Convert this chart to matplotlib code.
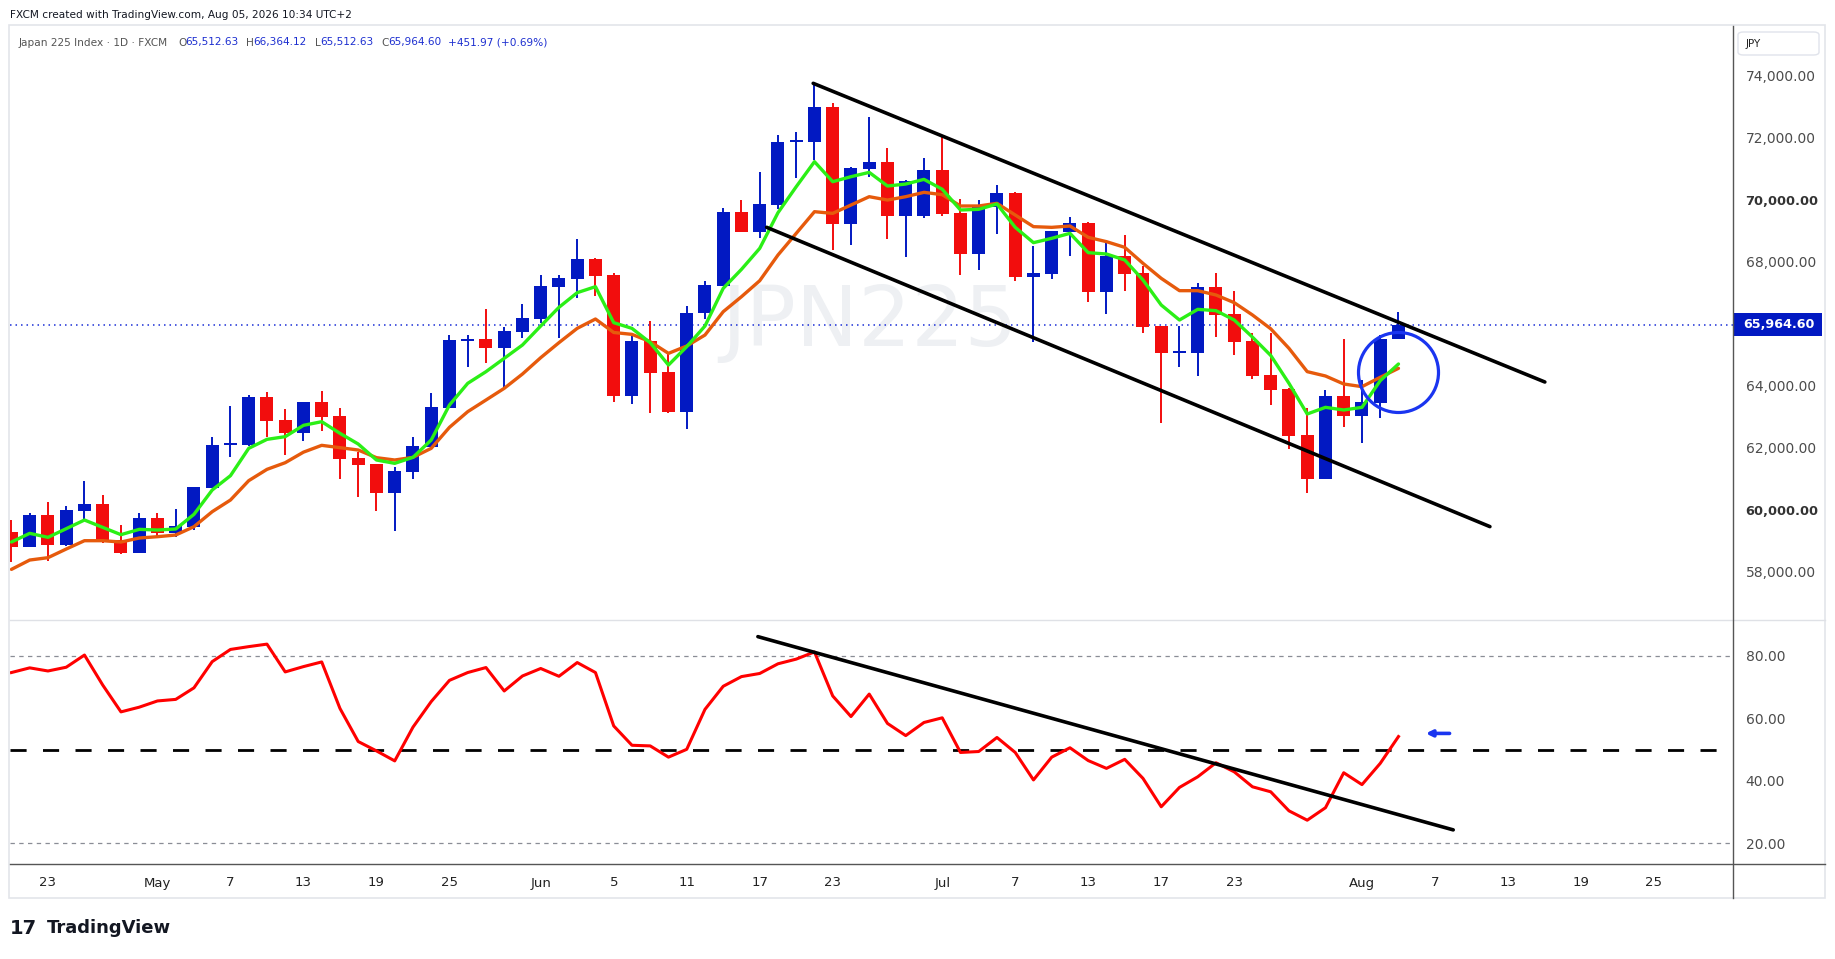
import matplotlib
matplotlib.use('Agg')
import matplotlib.pyplot as plt
import pandas as pd
from matplotlib.patches import Rectangle, FancyBboxPatch
from matplotlib.lines import Line2D

W, H, DPI = 1835, 959, 100

# ---------------- data ----------------
start_date = "2026-04-21"
end_date = "2026-08-05"

opens = [59274, 58801, 59822, 58854, 59951, 60177, 59016, 58607, 59725, 59252,
         59446, 60704, 62085, 62080, 63629, 62887, 62479, 63468, 63016, 61661,
         61468, 60543, 61220, 62027, 63285, 65436, 65500, 65221, 65726, 66156,
         67188, 67446, 68081, 67565, 63671, 65435, 64435, 63155, 66327, 67220,
         69596, 68962, 69833, 71850, 71854, 72983, 69220, 70994, 71209, 69478,
         69478, 70952, 69565, 68253, 69748, 70210, 67511, 67608, 68962, 69242,
         67016, 68178, 67629, 65919, 65060, 65059, 67178, 66307, 65436, 64339,
         63887, 62404, 60995, 63662, 63027, 63446, 65512.63]
highs = [59661, 59887, 60241, 60112, 60919, 60467, 59499, 59887, 59887, 60016,
         60740, 62349, 63338, 63693, 63790, 63242, 63468, 63823, 63274, 61866,
         61480, 61382, 62339, 63758, 65629, 65629, 66468, 65898, 66629, 67565,
         67565, 68726, 68100, 67640, 65600, 66080, 65005, 66564, 67370, 69725,
         69983, 70887, 72080, 72177, 73747, 73102, 71037, 72661, 71661, 70630,
         71338, 72060, 70016, 69984, 70468, 70253, 68500, 68984, 69436, 69260,
         68672, 68855, 67855, 65930, 65919, 67307, 67629, 67049, 65683, 65683,
         63909, 63264, 63855, 65500, 64178, 65629, 66364.12]
lows = [58317, 58780, 58349, 58830, 59661, 58908, 58564, 58590, 59123, 59123,
        59338, 60690, 61704, 62060, 62328, 61758, 62220, 62543, 60995, 60414,
        59962, 59317, 60995, 62000, 63270, 64608, 64737, 63876, 65543, 66006,
        65543, 66833, 66898, 63478, 63392, 63101, 63120, 62585, 66150, 67200,
        68940, 68768, 69682, 70704, 71274, 68370, 68543, 70736, 68725, 68155,
        69413, 69468, 67576, 67726, 68888, 67382, 65414, 67436, 68178, 66694,
        66307, 67049, 65705, 62801, 64608, 64318, 65565, 64984, 64210, 63371,
        61941, 60543, 60980, 62651, 62135, 62963, 65512.63]
closes = [58801, 59822, 58854, 59983, 60177, 59016, 58607, 59725, 59252, 59467,
          60725, 62080, 62110, 63629, 62865, 62478, 63468, 62995, 61640, 61446,
          60543, 61242, 62048, 63307, 65468, 65480, 65221, 65758, 66178, 67210,
          67468, 68081, 67543, 63672, 65435, 64413, 63155, 66327, 67241, 69596,
          68962, 69854, 71854, 71875, 72983, 69220, 71016, 71209, 69478, 70596,
          70951, 69533, 68253, 69748, 70210, 67511, 67629, 68984, 69242, 67016,
          68178, 67608, 65898, 65059, 65080, 67178, 66285, 65414, 64318, 63866,
          62382, 60995, 63662, 63027, 63457, 65512.63, 65964.60]
ma_fast = [58951, 59231, 59102, 59381, 59661, 59424, 59188, 59360, 59338, 59371,
           59844, 60629, 61091, 61973, 62263, 62350, 62715, 62833, 62457, 62113,
           61597, 61489, 61683, 62242, 63371, 64070, 64446, 64876, 65307, 65920,
           66522, 66995, 67188, 66027, 65843, 65381, 64660, 65252, 65919, 67134,
           67747, 68424, 69573, 70413, 71220, 70575, 70736, 70876, 70435, 70499,
           70650, 70330, 69662, 69683, 69855, 69103, 68608, 68748, 68909, 68285,
           68242, 68049, 67404, 66597, 66113, 66457, 66414, 66113, 65560, 64970,
           64070, 63081, 63296, 63210, 63296, 64156, 64694]
ma_slow = [58069, 58370, 58446, 58725, 58994, 58994, 58951, 59080, 59123, 59177,
           59446, 59930, 60306, 60930, 61295, 61510, 61850, 62070, 61995, 61919,
           61672, 61597, 61683, 61973, 62651, 63156, 63532, 63909, 64371, 64898,
           65382, 65844, 66145, 65710, 65650, 65413, 65037, 65274, 65628, 66381,
           66865, 67381, 68209, 68908, 69607, 69553, 69822, 70091, 69983, 70091,
           70231, 70156, 69791, 69791, 69877, 69500, 69124, 69102, 69145, 68780,
           68640, 68457, 67941, 67457, 67059, 67059, 66920, 66672, 66275, 65830,
           65199, 64447, 64307, 64049, 63963, 64264, 64554]
rsi = [74.7, 76.2, 75.2, 76.4, 80.3, 70.7, 62.1, 63.6, 65.6, 66.1,
       69.8, 78.2, 82.1, 83.0, 83.8, 74.9, 76.6, 78.1, 63.2, 52.6,
       49.6, 46.4, 57.2, 65.4, 72.2, 74.7, 76.3, 68.8, 73.6, 76.0,
       73.5, 77.9, 74.7, 57.6, 51.4, 51.2, 47.6, 50.1, 62.9, 70.3,
       73.4, 74.4, 77.5, 79.0, 81.3, 67.2, 60.6, 67.8, 58.4, 54.5,
       58.7, 60.2, 49.1, 49.4, 53.9, 49.1, 40.3, 47.6, 50.6, 46.5,
       44.0, 46.9, 40.8, 31.7, 37.9, 41.3, 45.8, 42.9, 38.1, 36.5,
       30.4, 27.4, 31.4, 42.6, 38.8, 45.6, 54.2]

tick_dates = ["2026-04-23", "2026-05-01", "2026-05-07", "2026-05-13", "2026-05-19",
              "2026-05-25", "2026-06-01", "2026-06-05", "2026-06-11", "2026-06-17",
              "2026-06-23", "2026-07-01", "2026-07-07", "2026-07-13", "2026-07-17",
              "2026-07-23", "2026-08-03", "2026-08-07", "2026-08-13", "2026-08-19",
              "2026-08-25"]
tick_texts = ["23", "May", "7", "13", "19", "25", "Jun", "5", "11", "17", "23",
              "Jul", "7", "13", "17", "23", "Aug", "7", "13", "19", "25"]

price_tick_show = [58000, 60000, 62000, 64000, 68000, 70000, 72000, 74000]
rsi_ticks = [20, 40, 60, 80]
last_price = 65964.60

# channel / trend lines (bar-index, value)
upper_channel = ([43.93, 84.02], [73748, 64113])
lower_channel = ([41.38, 81.01], [69103, 59448])
rsi_trend = ([40.9, 79.0], [86.2, 24.3])
circle_center = (76.0, 64426)
arrow_pos = (77.5, 78.8, 55.2)

# ---------------- positions ----------------
all_days = pd.bdate_range(start_date, "2026-08-31")
bars = pd.bdate_range(start_date, end_date)
idx = list(range(len(bars)))
pos_of = {d.strftime("%Y-%m-%d"): k for k, d in enumerate(all_days)}
tick_idx = [pos_of[d] for d in tick_dates]

BLUE = "#0219c2"
RED = "#f20d0d"
GREEN = "#2bef16"
ORANGE = "#e65a0c"
TXT = "#4c4c4c"


def fx(x):
    return x / W


def fy(y):
    return 1 - y / H


fig = plt.figure(figsize=(W / DPI, H / DPI), dpi=DPI)
fig.patch.set_facecolor("white")

XL = (-0.08, 94.33)

# ---------------- price panel ----------------
ax = fig.add_axes([fx(10), fy(619), fx(1733) - fx(10), fy(26) - fy(619)])
ax.set_xlim(*XL)
ax.set_ylim(56468, 75597)
for s in ax.spines.values():
    s.set_visible(False)
ax.set_xticks([])

ax.text(47.0, 66048, "JPN225", fontsize=60, color="#eef0f3", ha="center",
        va="center", zorder=0, family="DejaVu Sans")

for i, o, h, l, c in zip(idx, opens, highs, lows, closes):
    col = BLUE if c >= o else RED
    ax.vlines(i, l, h, color=col, lw=1.4, zorder=2)
    bot = min(o, c)
    ht = max(abs(c - o), 60)
    ax.bar(i, ht, bottom=bot, width=0.71, color=col, zorder=3, linewidth=0)

ax.plot(idx, ma_slow, color=ORANGE, lw=2.4, zorder=4, solid_capstyle="round")
ax.plot(idx, ma_fast, color=GREEN, lw=2.4, zorder=5, solid_capstyle="round")

ax.plot(*upper_channel, color="black", lw=2.6, zorder=6, solid_capstyle="round")
ax.plot(*lower_channel, color="black", lw=2.6, zorder=6, solid_capstyle="round")

ax.axhline(last_price, color="#1b2fd6", ls=(0, (1, 2.6)), lw=1.1, zorder=1)

ax.plot([circle_center[0]], [circle_center[1]], marker="o", markersize=57.6,
        mfc="none", mec="#1a35f0", mew=2.3, zorder=7)

ax.yaxis.tick_right()
ax.set_yticks(price_tick_show)
ax.set_yticklabels([f"{v:,.2f}" for v in price_tick_show])
ax.tick_params(axis="y", length=0, pad=9, labelsize=10, labelcolor=TXT)
for lab, v in zip(ax.get_yticklabels(), price_tick_show):
    if v in (70000, 60000):
        lab.set_color("#333333")
        lab.set_fontweight("bold")
        lab.set_fontsize(9.4)

# ---------------- RSI panel ----------------
ax2 = fig.add_axes([fx(10), fy(864), fx(1733) - fx(10), fy(620) - fy(864)])
ax2.set_xlim(*XL)
ax2.set_ylim(13.37, 91.53)
for s in ax2.spines.values():
    s.set_visible(False)

ax2.axhline(80, color="#8a8d96", ls=(0, (3.5, 3.5)), lw=0.9)
ax2.axhline(20, color="#8a8d96", ls=(0, (3.5, 3.5)), lw=0.9)
ax2.axhline(50, color="black", ls=(0, (5.8, 5.9)), lw=2.0)
ax2.plot(idx, rsi, color="#ff0000", lw=2.2, zorder=4)
ax2.plot(*rsi_trend, color="black", lw=2.6, zorder=5, solid_capstyle="round")
ax2.annotate("", xy=(arrow_pos[0], arrow_pos[2]), xytext=(arrow_pos[1], arrow_pos[2]),
             arrowprops=dict(arrowstyle="-|>", color="#1a35f0", lw=2.6,
                             mutation_scale=9, shrinkA=0, shrinkB=0))

ax2.yaxis.tick_right()
ax2.set_yticks(rsi_ticks)
ax2.set_yticklabels([f"{v:.2f}" for v in rsi_ticks])
ax2.tick_params(axis="y", length=0, pad=9, labelsize=10, labelcolor=TXT)
ax2.set_xticks(tick_idx)
ax2.set_xticklabels(tick_texts)
ax2.tick_params(axis="x", length=0, pad=9, labelsize=9.5, labelcolor="#222222")

# ---------------- frame & decorations ----------------
def fline(x0, y0, x1, y1, color, lw):
    fig.add_artist(Line2D([fx(x0), fx(x1)], [fy(y0), fy(y1)], color=color, lw=lw,
                          transform=fig.transFigure))

fig.add_artist(Rectangle((fx(9), fy(898)), fx(1825) - fx(9), fy(25) - fy(898),
                         transform=fig.transFigure, fill=False, ec="#e3e5ea", lw=1.2))
fline(10, 619.5, 1825, 619.5, "#dfe1e6", 1.0)
fline(10, 864, 1825, 864, "#555555", 1.0)
fline(1733, 26, 1733, 898, "#555555", 1.0)

# last price label
fig.add_artist(Rectangle((fx(1733), fy(336)), fx(1822) - fx(1733), fy(313) - fy(336),
                         transform=fig.transFigure, fc="#0219c2", ec="none"))
fig.text(fx(1743), fy(324.8), f"{last_price:,.2f}", color="white", fontsize=9.2,
         fontweight="bold", va="center", ha="left")

# JPY box
fig.add_artist(FancyBboxPatch((fx(1738), fy(55)), fx(1819) - fx(1738), fy(32) - fy(55),
                              boxstyle="round,pad=0,rounding_size=0.003",
                              transform=fig.transFigure, fc="white", ec="#e0e3eb", lw=1))
fig.text(fx(1746), fy(44), "JPY", fontsize=7.5, color="#222222", va="center")

# header
fig.text(fx(10), fy(15), "FXCM created with TradingView.com, Aug 05, 2026 10:34 UTC+2",
         fontsize=7.6, color="#131722", va="center")
LEG_Y = fy(42.5)
fig.text(fx(18.5), LEG_Y, "Japan 225 Index \u00b7 1D \u00b7 FXCM", fontsize=7.6,
         color="#555555", va="center")
leg_items = [(178, "O", 185, f"{opens[-1]:,.2f}"), (246, "H", 253.5, f"{highs[-1]:,.2f}"),
             (314.5, "L", 320.5, f"{lows[-1]:,.2f}"), (381, "C", 388, f"{closes[-1]:,.2f}")]
for xl, letter, xv, val in leg_items:
    fig.text(fx(xl), LEG_Y, letter, fontsize=7.6, color="#555555", va="center")
    fig.text(fx(xv), LEG_Y, val, fontsize=7.6, color="#1d2fd0", va="center")
chg = closes[-1] - opens[-1]
fig.text(fx(448), LEG_Y, f"+{chg:.2f} (+{chg / opens[-1] * 100:.2f}%)", fontsize=7.6,
         color="#1d2fd0", va="center")

# footer logo
fig.text(fx(10), fy(928), "17", fontsize=14, fontweight="heavy", color="#131722",
         va="center")
fig.text(fx(47), fy(928), "TradingView", fontsize=13, fontweight="bold",
         color="#131722", va="center")

fig.savefig("out.png", dpi=DPI, facecolor="white")
